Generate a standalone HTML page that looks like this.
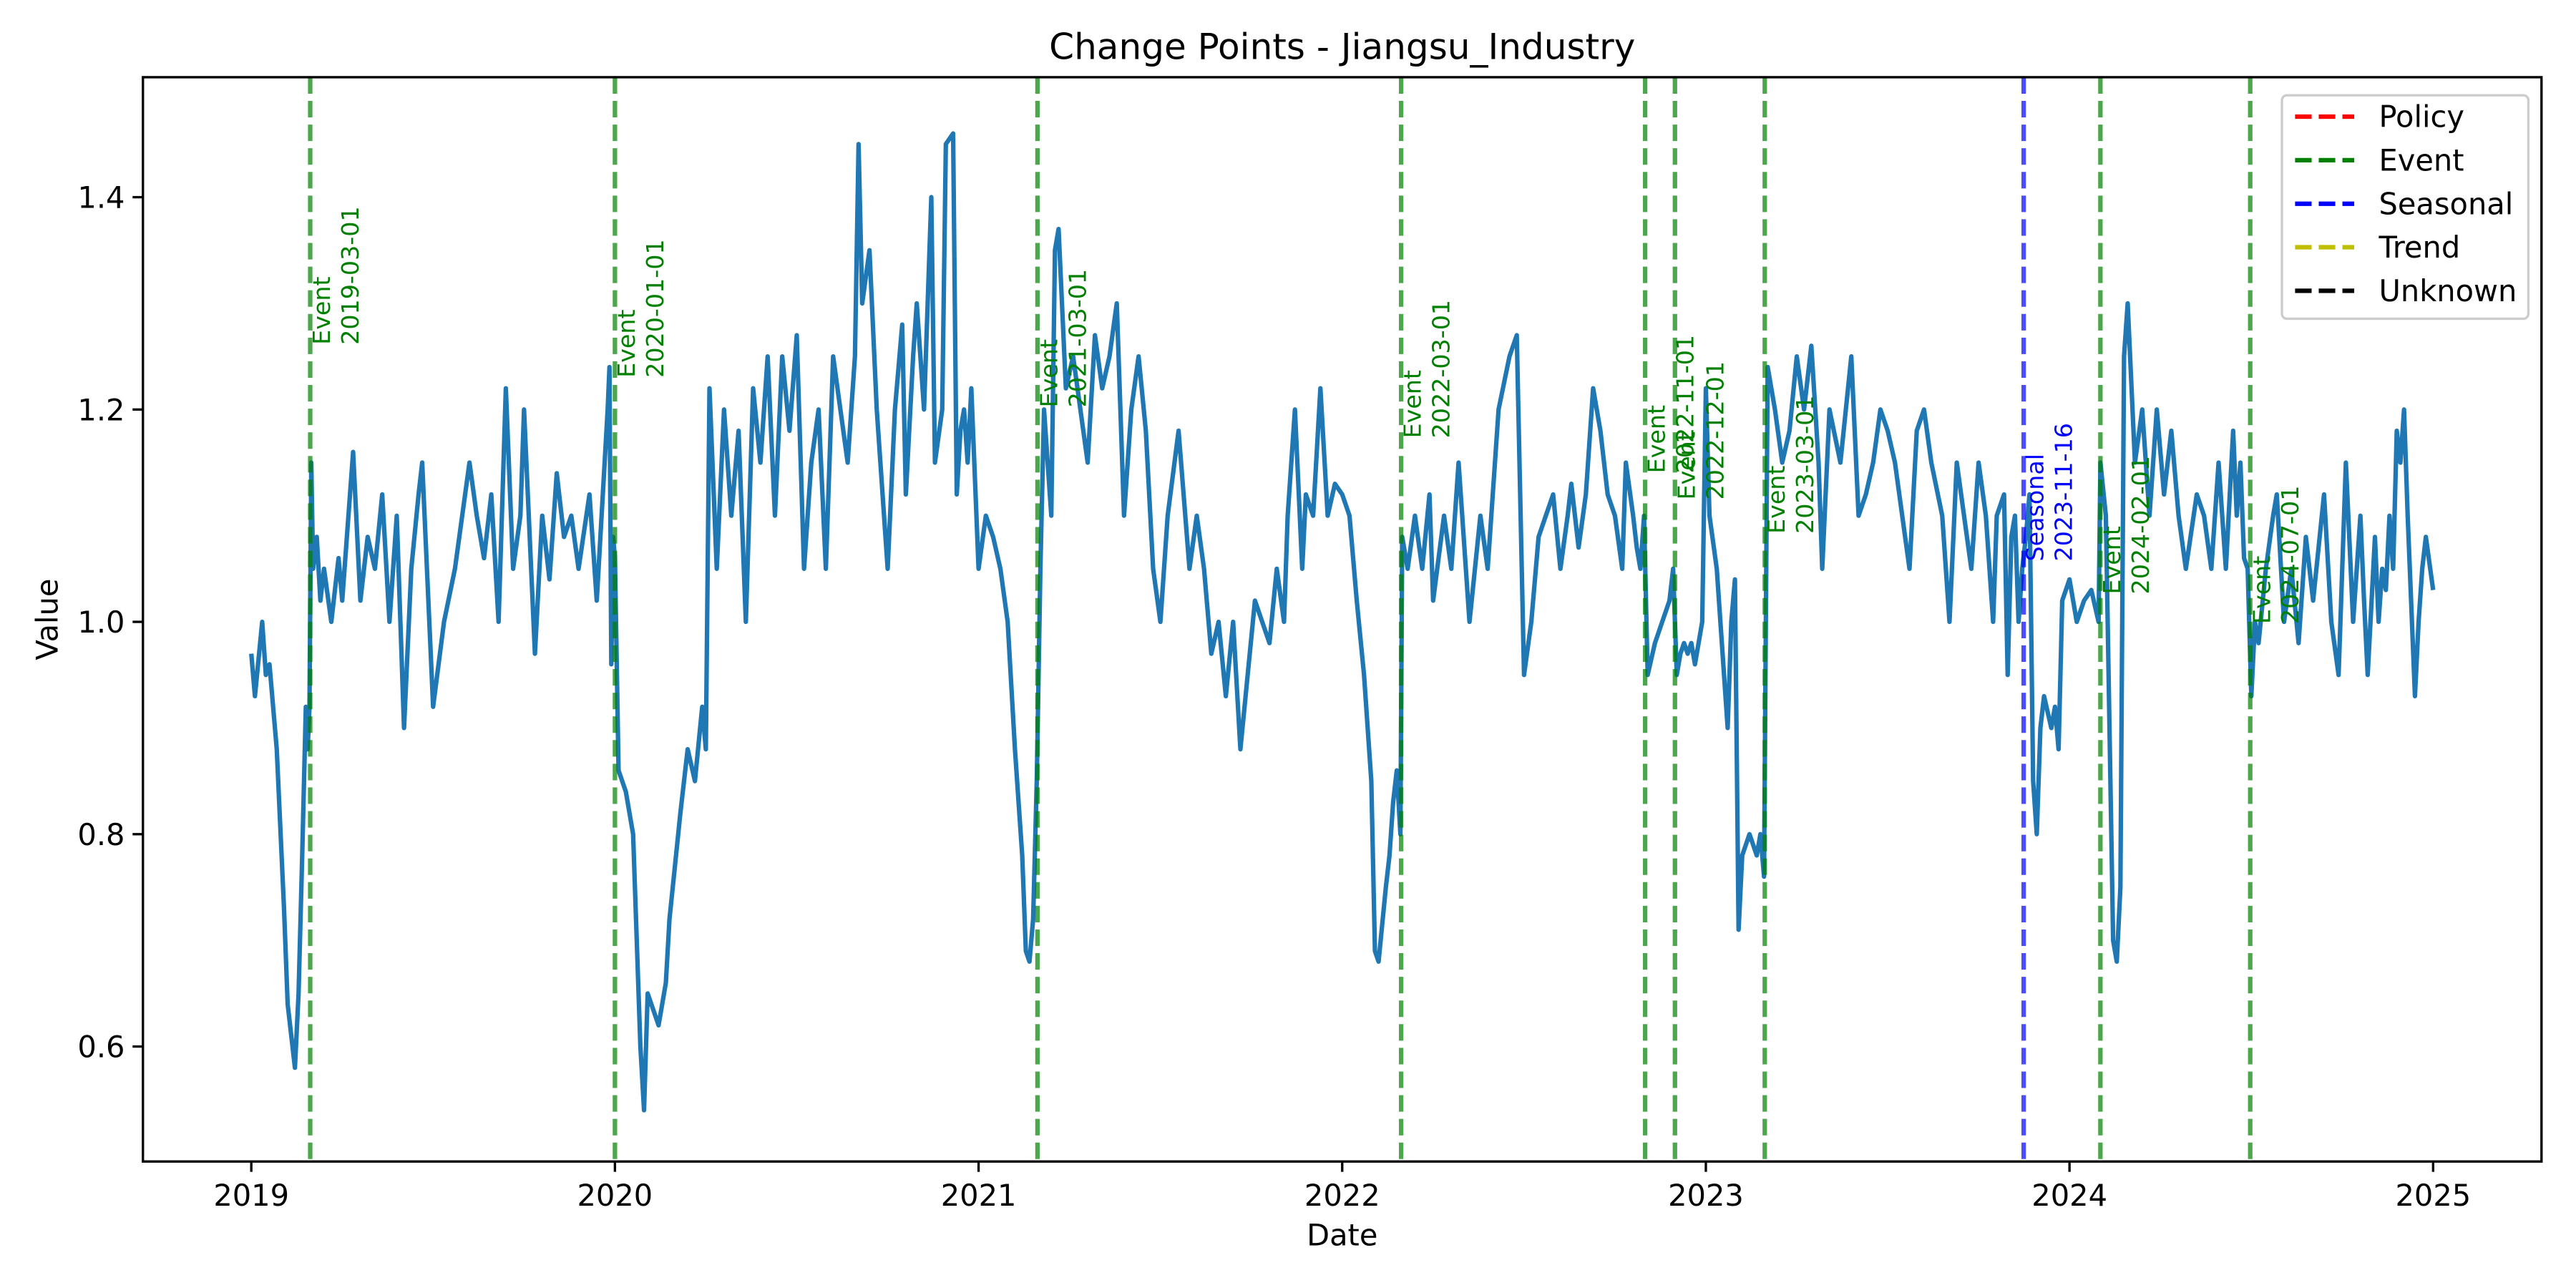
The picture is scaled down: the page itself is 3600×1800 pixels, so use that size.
<!DOCTYPE html>
<html><head><meta charset="utf-8"><style>
html,body{margin:0;padding:0;background:#fff;}
svg{display:block;font-family:"DejaVu Sans","Liberation Sans",sans-serif;}
</style></head><body>
<svg id="chart" width="3600" height="1800" viewBox="0 0 1568 784" xmlns="http://www.w3.org/2000/svg">
<rect x="0" y="0" width="1568" height="784" fill="#fff"/>
<text x="817" y="36" font-size="21.8" text-anchor="middle">Change Points - Jiangsu_Industry</text>
<text x="817" y="758" font-size="18.1" text-anchor="middle">Date</text>
<text transform="translate(35,377) rotate(-90)" font-size="18.1" text-anchor="middle">Value</text>
<g id="plot"></g>
<rect x="87" y="47" width="1460" height="660" fill="none" stroke="#000" stroke-width="1.45"/>
<g id="axes"></g>
<g>
<rect x="1389" y="58" width="150" height="136" rx="3" fill="#fff" fill-opacity="0.8" stroke="#ccc" stroke-width="1.45"/>
<g id="legend-items"></g>
</g>
</svg>
<script>
const times = [
0,.01,.03,.04,.05,.07,.09,.10,.12,.13,.14,.15,.155,.16,
.165,.17,.18,.19,.2,.22,.24,.25,.28,.3,.32,.34,.36,.38,.4,.42,.44,.46,.47,.5,.53,.56,.6,.62,.64,.66,.68,.7,.72,.74,.75,.78,.8,.82,.84,.86,.88,.9,.93,.95,.98,.985,.99,.995,
1.0,1.01,1.03,1.05,1.07,1.08,1.09,1.11,1.12,1.14,1.15,1.18,1.2,1.22,1.24,1.25,1.26,1.28,1.3,1.32,1.34,1.36,1.38,1.4,1.42,1.44,1.46,1.48,1.5,1.52,1.54,1.56,1.58,1.6,1.62,1.64,1.66,1.67,1.68,1.7,1.72,1.73,1.75,1.77,1.79,1.8,1.82,1.83,1.85,1.87,1.88,1.9,1.91,1.93,1.94,1.95,1.96,1.97,1.98,
2.0,2.02,2.04,2.06,2.08,2.1,2.12,2.13,2.14,2.15,2.16,2.17,2.18,2.19,2.2,2.21,2.22,2.24,2.26,2.28,2.3,2.32,2.34,2.36,2.38,2.4,2.42,2.44,2.46,2.48,2.5,2.52,2.55,2.58,2.6,2.62,2.64,2.66,2.68,2.7,2.72,2.74,2.76,2.78,2.8,2.82,2.84,2.85,2.87,2.89,2.9,2.92,2.94,2.96,2.98,
3.0,3.02,3.04,3.06,3.08,3.09,3.1,3.12,3.13,3.14,3.15,3.16,3.165,3.18,3.2,3.22,3.24,3.25,3.28,3.3,3.32,3.35,3.38,3.4,3.43,3.46,3.48,3.5,3.52,3.54,3.56,3.58,3.6,3.62,3.63,3.65,3.67,3.69,3.71,3.73,3.75,3.77,3.78,3.8,3.81,3.82,3.83,
3.84,3.86,3.88,3.9,3.91,3.92,3.93,3.94,3.95,3.96,3.97,3.99,4.0,4.01,4.03,4.05,4.06,4.07,4.08,4.09,4.1,4.12,4.14,4.15,4.16,
4.17,4.19,4.21,4.23,4.25,4.27,4.29,4.31,4.32,4.34,4.37,4.4,4.42,4.44,4.46,4.48,4.5,4.52,4.54,4.56,4.58,4.6,4.62,4.65,4.67,4.69,4.71,4.73,4.75,4.77,4.79,4.8,4.82,4.83,4.84,4.85,4.86,4.87,
4.88,4.89,4.9,4.91,4.92,4.93,4.95,4.96,4.97,4.98,5.0,5.02,5.04,5.06,5.08,5.085,5.1,5.11,5.12,5.13,5.14,5.15,5.16,5.18,5.2,5.22,5.24,5.26,5.28,5.3,5.32,5.35,5.37,5.39,5.41,5.43,5.45,5.46,5.47,5.48,5.49,
5.5,5.51,5.52,5.54,5.56,5.57,5.59,5.61,5.63,5.65,5.67,5.7,5.72,5.74,5.76,5.78,5.8,5.81,5.82,5.84,5.85,5.86,5.87,5.88,5.89,5.9,5.91,5.92,5.93,5.95,5.96,5.97,5.98,6.0];
const values = [
.97,.93,1.0,.95,.96,.88,.73,.64,.58,.65,.78,.92,.88,.92,
1.15,1.05,1.08,1.02,1.05,1.0,1.06,1.02,1.16,1.02,1.08,1.05,1.12,1.0,1.1,.9,1.05,1.12,1.15,.92,1.0,1.05,1.15,1.1,1.06,1.12,1.0,1.22,1.05,1.1,1.2,.97,1.1,1.04,1.14,1.08,1.1,1.05,1.12,1.02,1.2,1.24,.96,1.08,
1.06,.86,.84,.8,.6,.54,.65,.63,.62,.66,.72,.82,.88,.85,.92,.88,1.22,1.05,1.2,1.1,1.18,1.0,1.22,1.15,1.25,1.1,1.25,1.18,1.27,1.05,1.15,1.2,1.05,1.25,1.2,1.15,1.25,1.45,1.3,1.35,1.2,1.15,1.05,1.2,1.28,1.12,1.25,1.3,1.2,1.4,1.15,1.2,1.45,1.46,1.12,1.18,1.2,1.15,1.22,
1.05,1.1,1.08,1.05,1.0,.88,.78,.69,.68,.72,.85,1.05,1.2,1.15,1.1,1.35,1.37,1.22,1.25,1.2,1.15,1.27,1.22,1.25,1.3,1.1,1.2,1.25,1.18,1.05,1.0,1.1,1.18,1.05,1.1,1.05,.97,1.0,.93,1.0,.88,.95,1.02,1.0,.98,1.05,1.0,1.1,1.2,1.05,1.12,1.1,1.22,1.1,1.13,
1.12,1.1,1.02,.95,.85,.69,.68,.75,.78,.83,.86,.8,1.08,1.05,1.1,1.05,1.12,1.02,1.1,1.05,1.15,1.0,1.1,1.05,1.2,1.25,1.27,.95,1.0,1.08,1.1,1.12,1.05,1.1,1.13,1.07,1.12,1.22,1.18,1.12,1.1,1.05,1.15,1.1,1.07,1.05,1.1,
.95,.98,1.0,1.02,1.05,.95,.97,.98,.97,.98,.96,1.0,1.22,1.1,1.05,.95,.9,1.0,1.04,.71,.78,.8,.78,.8,.76,
1.24,1.2,1.15,1.18,1.25,1.2,1.26,1.15,1.05,1.2,1.15,1.25,1.1,1.12,1.15,1.2,1.18,1.15,1.1,1.05,1.18,1.2,1.15,1.1,1.0,1.15,1.1,1.05,1.15,1.1,1.0,1.1,1.12,.95,1.08,1.1,1.0,1.05,
1.08,1.12,.85,.8,.9,.93,.9,.92,.88,1.02,1.04,1.0,1.02,1.03,1.0,1.15,1.1,.9,.7,.68,.75,1.25,1.3,1.15,1.2,1.1,1.2,1.12,1.18,1.1,1.05,1.12,1.1,1.05,1.15,1.05,1.18,1.1,1.15,1.06,1.05,
.93,1.0,.98,1.05,1.1,1.12,1.0,1.05,.98,1.08,1.02,1.12,1.0,.95,1.15,1.0,1.1,1.02,.95,1.08,1.0,1.05,1.03,1.1,1.05,1.18,1.15,1.2,1.1,.93,1.0,1.05,1.08,1.03];
const cpTimes = [0.162, 1.0, 2.162, 3.162, 3.833, 3.915, 4.162, 4.874, 5.085, 5.497];
const cpDates = ["2019-03-01","2020-01-01","2021-03-01","2022-03-01","2022-11-01","2022-12-01","2023-03-01","2023-11-16","2024-02-01","2024-07-01"];
const cpTypes = ["Event","Event","Event","Event","Event","Event","Event","Seasonal","Event","Event"];
const cpLabelVals = [1.261,1.230,1.202,1.173,1.140,1.115,1.083,1.057,1.026,0.998];
const xTickYears = [2019,2020,2021,2022,2023,2024,2025];
const yTicks = [0.6,0.8,1.0,1.2,1.4];
const legendNames = ["Policy","Event","Seasonal","Trend","Unknown"];
const legendColors = ["#ff0000","#008000","#0000ff","#bfbf00","#000000"];

const NS="http://www.w3.org/2000/svg";
const X0=87,X1=1547,Y0=47,Y1=707;
const tMin=-0.298,tMax=6.298,vMin=0.4917,vMax=1.513;
function xs(t){return X0+(t-tMin)/(tMax-tMin)*(X1-X0);}
function ys(v){return Y1-(v-vMin)/(vMax-vMin)*(Y1-Y0);}
function mk(tag,attrs,parent){const e=document.createElementNS(NS,tag);for(const k in attrs)e.setAttribute(k,attrs[k]);parent.appendChild(e);return e;}
const plot=document.getElementById('plot');
const axes=document.getElementById('axes');
const typeColor={Event:"#008000",Seasonal:"#0000ff",Policy:"#ff0000",Trend:"#bfbf00",Unknown:"#000000"};

// series
let d="";
const n=Math.min(times.length,values.length);
for(let i=0;i<n;i++){d+=(i?"L":"M")+xs(times[i]).toFixed(2)+" "+ys(values[i]).toFixed(2);}
const line=mk('path',{d:d,fill:"none",stroke:"#1f77b4","stroke-width":2.72,"stroke-linejoin":"round"},plot);



// change points
for(let i=0;i<cpTimes.length;i++){
  const x=xs(cpTimes[i]);const c=typeColor[cpTypes[i]];
  const vl=mk('line',{x1:x,y1:Y0,x2:x,y2:Y1,stroke:c,"stroke-opacity":0.7,"stroke-width":2.72,"stroke-dasharray":"10.06 4.35"},plot);
  
  
  const yb=ys(cpLabelVals[i]);
  const tx=mk('text',{transform:`translate(${x},${yb}) rotate(-90)`,"font-size":14.5,fill:c},plot);
  
  
  const a=mk('tspan',{x:0,y:12},tx);a.textContent=cpTypes[i];
  const b=mk('tspan',{x:0,y:29.4},tx);b.textContent=cpDates[i];
}

// x ticks
xTickYears.forEach(yr=>{
  const x=xs(yr-2019);
  mk('line',{x1:x,y1:Y1,x2:x,y2:Y1+6.3,stroke:"#000","stroke-width":1.45},axes);
  const t=mk('text',{x:x,y:734,"font-size":18.1,"text-anchor":"middle"},axes);
  
  
  t.textContent=yr;
});
// y ticks
yTicks.forEach(v=>{
  const y=ys(v);
  mk('line',{x1:X0-6.3,y1:y,x2:X0,y2:y,stroke:"#000","stroke-width":1.45},axes);
  const t=mk('text',{x:76,y:y+6.6,"font-size":18.1,"text-anchor":"end"},axes);
  
  
  t.textContent=v.toFixed(1);
});
// legend
const lg=document.getElementById('legend-items');
legendNames.forEach((nm,i)=>{
  const y=71+i*26.5;
  const g=mk('g',{},lg);
  
  
  mk('line',{x1:1397,y1:y,x2:1433,y2:y,stroke:legendColors[i],"stroke-width":2.72,"stroke-dasharray":"10.06 4.35"},g);
  const t=mk('text',{x:1448,y:y+6.4,"font-size":18.1},g);
  t.textContent=nm;
});
</script>
</body></html>
